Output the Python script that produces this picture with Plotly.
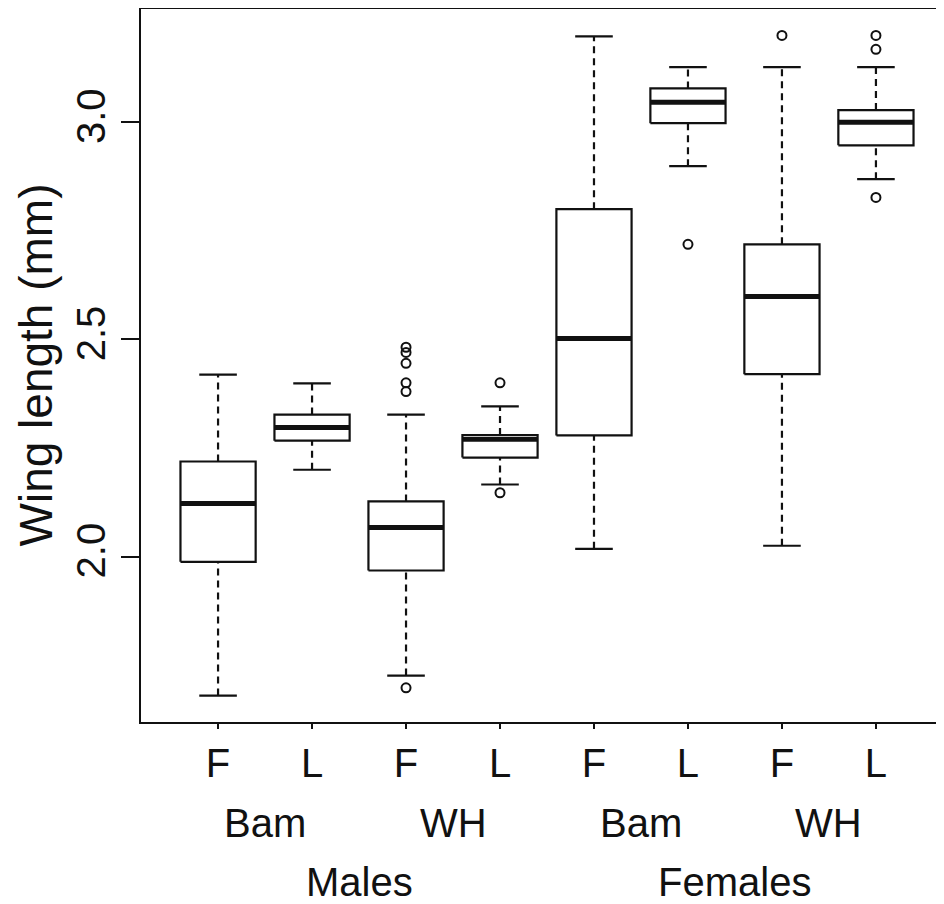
import plotly.graph_objects as go

# ---- data ----
positions = [1, 2, 3, 4, 5, 6, 7, 8]
tick_labels = ["F", "L", "F", "L", "F", "L", "F", "L"]
site_labels = ["Bam", "WH", "Bam", "WH"]
site_centers = [1.5, 3.5, 5.5, 7.5]
sex_labels = ["Males", "Females"]
sex_centers = [2.5, 6.5]

lower_whisker = [1.680, 2.200, 1.726, 2.166, 2.018, 2.899, 2.025, 2.869]
q1 = [1.988, 2.267, 1.968, 2.228, 2.279, 2.998, 2.420, 2.947]
median = [2.122, 2.297, 2.067, 2.270, 2.502, 3.046, 2.599, 3.000]
q3 = [2.219, 2.327, 2.127, 2.280, 2.800, 3.078, 2.719, 3.028]
upper_whisker = [2.419, 2.399, 2.327, 2.346, 3.198, 3.127, 3.127, 3.127]
outliers = [
    [],
    [],
    [1.698, 2.380, 2.400, 2.445, 2.470, 2.482],
    [2.147, 2.400],
    [],
    [2.719],
    [3.200],
    [2.827, 3.168, 3.200],
]

# ---- styling ----
FONT = "Liberation Sans, Arial, Helvetica, sans-serif"
FS = 40
INK = "#111111"
BOXW = 0.8      # box width (data units)
CAPW = 0.4      # staple width

fig = go.Figure()

# dashed whiskers
wx, wy = [], []
for p, lw, a, b, uw in zip(positions, lower_whisker, q1, q3, upper_whisker):
    wx += [p, p, None, p, p, None]
    wy += [lw, a, None, b, uw, None]
fig.add_trace(go.Scatter(x=wx, y=wy, mode="lines",
                         line=dict(color=INK, width=2.2, dash="7px,5px"),
                         hoverinfo="skip", showlegend=False))

# staples (caps)
cx, cy = [], []
for p, lw, uw in zip(positions, lower_whisker, upper_whisker):
    cx += [p - CAPW / 2, p + CAPW / 2, None, p - CAPW / 2, p + CAPW / 2, None]
    cy += [lw, lw, None, uw, uw, None]
fig.add_trace(go.Scatter(x=cx, y=cy, mode="lines",
                         line=dict(color=INK, width=2.2),
                         hoverinfo="skip", showlegend=False))

# boxes
bx, by = [], []
for p, a, b in zip(positions, q1, q3):
    x0, x1 = p - BOXW / 2, p + BOXW / 2
    bx += [x0, x1, x1, x0, x0, None]
    by += [a, a, b, b, a, None]
fig.add_trace(go.Scatter(x=bx, y=by, mode="lines",
                         line=dict(color=INK, width=2.2),
                         hoverinfo="skip", showlegend=False))

# medians (thick)
mx, my = [], []
for p, m in zip(positions, median):
    mx += [p - BOXW / 2, p + BOXW / 2, None]
    my += [m, m, None]
fig.add_trace(go.Scatter(x=mx, y=my, mode="lines",
                         line=dict(color=INK, width=5),
                         hoverinfo="skip", showlegend=False))

# outliers
ox, oy = [], []
for p, vals in zip(positions, outliers):
    for v in vals:
        ox.append(p)
        oy.append(v)
fig.add_trace(go.Scatter(x=ox, y=oy, mode="markers",
                         marker=dict(symbol="circle-open", size=9,
                                     color=INK, line=dict(width=2)),
                         showlegend=False))

# axis ranges (R style: 4% extension)
all_vals = lower_whisker + upper_whisker + [v for vs in outliers for v in vs]
ylo, yhi = min(all_vals), max(all_vals)
ypad = 0.04 * (yhi - ylo)
n = len(positions)
xlo = 0.5 - 0.04 * n
xhi_full = n + 0.5 + 0.04 * n

# page body has an 8px margin, so the figure is offset by (8, 8)
OFF = 8
fig_w, fig_h = 944 - OFF, 904 - OFF
plot_left, plot_right_full = 141 - OFF, 953 - OFF
plot_top, plot_bottom = 9 - OFF, 722 - OFF
xhi = xlo + (xhi_full - xlo) * (fig_w - plot_left) / (plot_right_full - plot_left)

# grouping labels below the axis
for txt, xc in zip(site_labels, site_centers):
    fig.add_annotation(x=xc, xref="x", y=0, yref="paper", yanchor="middle",
                       xanchor="center", yshift=-101, text=txt,
                       showarrow=False,
                       font=dict(family=FONT, size=FS, color=INK))
for txt, xc in zip(sex_labels, sex_centers):
    fig.add_annotation(x=xc, xref="x", y=0, yref="paper", yanchor="middle",
                       xanchor="center", yshift=-160, text=txt,
                       showarrow=False,
                       font=dict(family=FONT, size=FS, color=INK))

# y-axis title
fig.add_annotation(x=0, xref="paper", xanchor="center", xshift=-(141 - 35),
                   y=0.5, yref="paper", yanchor="middle",
                   text="Wing length (mm)", textangle=-90, showarrow=False,
                   font=dict(family=FONT, size=46, color=INK))

fig.update_layout(
    width=fig_w, height=fig_h,
    margin=dict(l=plot_left, r=0, t=plot_top, b=fig_h - plot_bottom, pad=0),
    plot_bgcolor="white", paper_bgcolor="white",
    showlegend=False,
    font=dict(family=FONT, size=FS, color=INK),
    xaxis=dict(range=[xlo, xhi], tickmode="array", tickvals=positions,
               ticktext=tick_labels, ticks="outside", ticklen=5,
               tickwidth=2, tickcolor=INK, showline=True, linewidth=2.2,
               linecolor=INK, mirror=True, showgrid=False, zeroline=False,
               tickfont=dict(family=FONT, size=FS, color=INK)),
    yaxis=dict(range=[ylo - ypad, yhi + ypad], tickmode="array",
               tickvals=[2.0, 2.5, 3.0], ticktext=["2.0", "2.5", "3.0"],
               tickangle=-90, ticks="outside", ticklen=18, tickwidth=2,
               tickcolor=INK, showline=True, linewidth=2.2, linecolor=INK,
               mirror=False, showgrid=False, zeroline=False,
               tickfont=dict(family=FONT, size=FS, color=INK)),
)

fig.write_html("out.html")
